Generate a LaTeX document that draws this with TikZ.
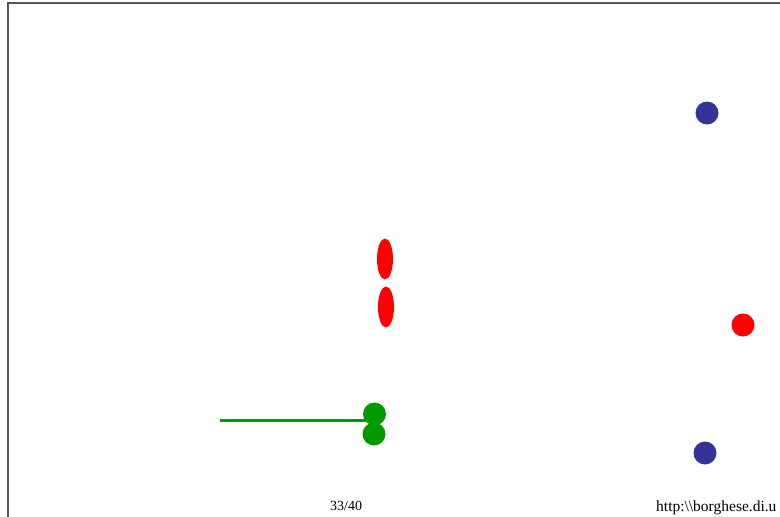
\documentclass[tikz,border=0pt]{standalone}
\usepackage{fontspec}
\setmainfont{Liberation Serif}
\usetikzlibrary{shapes.geometric}
\definecolor{dotblue}{HTML}{333399}
\definecolor{dotred}{HTML}{FF0000}
\definecolor{dotgreen}{HTML}{009900}
\definecolor{framegray}{HTML}{555555}
\begin{document}
\begin{tikzpicture}[x=1pt,y=-1pt,
  framestyle/.style={draw=framegray,line width=1.4pt},
  bluedot/.style={circle,fill=dotblue,minimum size=23pt,inner sep=0pt},
  reddot/.style={circle,fill=dotred,minimum size=23pt,inner sep=0pt},
  greendot/.style={circle,fill=dotgreen,minimum size=23pt,inner sep=0pt},
  redellipse/.style={ellipse,fill=dotred,minimum width=16pt,minimum height=41pt,inner sep=0pt},
  foot/.style={font=\fontsize{14}{16}\selectfont,inner sep=0pt,anchor=base west}]
\useasboundingbox (0,0) rectangle (780,517);
\coordinate (ftl) at (8,3);
\coordinate (ftr) at (781,3);
\coordinate (fbl) at (8,518);
\draw[framestyle] (ftr) -- (ftl) -- (fbl);
\node[bluedot] (b1) at (707,113) {};
\node[bluedot] (b2) at (705,453) {};
\node[reddot] (r1) at (743,325) {};
\node[redellipse] (e1) at (385,259) {};
\node[redellipse] (e2) at (386,307) {};
\coordinate (gl) at (220,420.5);
\draw[dotgreen,line width=2.6pt] (gl) -- (374,420.5);
\node[greendot] (g1) at (374.5,414) {};
\node[greendot] (g2) at (374,434) {};
\node[foot] (pg) at (330,510) {33/40};
\node[foot,font=\fontsize{15.5}{17}\selectfont] (url) at (656,511) {http:\textbackslash\textbackslash borghese.di.u};
\end{tikzpicture}
\end{document}
